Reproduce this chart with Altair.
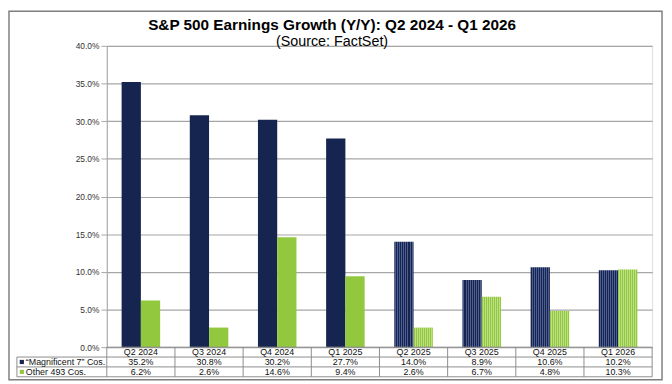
import altair as alt
import pandas as pd

# ---- data ----
quarters = ["Q2 2024", "Q3 2024", "Q4 2024", "Q1 2025", "Q2 2025", "Q3 2025", "Q4 2025", "Q1 2026"]
mag7 = [35.2, 30.8, 30.2, 27.7, 14.0, 8.9, 10.6, 10.2]
other = [6.2, 2.6, 14.6, 9.4, 2.6, 6.7, 4.8, 10.3]
is_estimate = [False, False, False, False, True, True, True, True]
series_keys = ["Mag7", "Other"]
series_names = ["\u201cMagnificent 7\u201d Cos.", "Other 493 Cos."]
y_ticks = [0, 5, 10, 15, 20, 25, 30, 35, 40]
title_text = "S&P 500 Earnings Growth (Y/Y): Q2 2024 - Q1 2026"
subtitle_text = "(Source: FactSet)"

NAVY = "#16254f"
GREEN = "#92c83e"
NAVY_LIGHT = "#4d5d8f"
GREEN_LIGHT = "#bddf86"


def stripes(c1, c2, n=19):
    stops = []
    for k in range(n):
        c = c1 if k % 2 == 0 else c2
        stops.append({"offset": k / n, "color": c})
        stops.append({"offset": (k + 1) / n, "color": c})
    return {"gradient": "linear", "x1": 0, "y1": 0, "x2": 1, "y2": 0, "stops": stops}


rows = []
for i, q in enumerate(quarters):
    for s, vals in (("Mag7", mag7), ("Other", other)):
        rows.append({
            "quarter": q,
            "series": s,
            "value": vals[i],
            "key": s + ("-est" if is_estimate[i] else ""),
            "label": f"{vals[i]:.1f}%",
        })
df = pd.DataFrame(rows)
qdf = pd.DataFrame({"quarter": quarters})
one = pd.DataFrame({"a": [0]})

W, H = 552, 305
FONT = "Liberation Sans"
LINE = "#8c8c8c"
TFS = 9  # table font size
ROW_Y = [H + 5, H + 15, H + 25]  # header, row 1, row 2 centres

xs = alt.Scale(domain=quarters, paddingInner=0, paddingOuter=0)
x = alt.X("quarter:N", sort=quarters, scale=xs, axis=None)

fill = (
    alt.when(alt.datum.key == "Mag7-est").then(alt.value(stripes(NAVY, NAVY_LIGHT)))
    .when(alt.datum.key == "Other-est").then(alt.value(stripes(GREEN, GREEN_LIGHT)))
    .when(alt.datum.key == "Mag7").then(alt.value(NAVY))
    .otherwise(alt.value(GREEN))
)

bars = alt.Chart(df).mark_bar().encode(
    x=x,
    xOffset=alt.XOffset("series:N", scale=alt.Scale(domain=series_keys, paddingOuter=0.77, paddingInner=0)),
    y=alt.Y(
        "value:Q",
        scale=alt.Scale(domain=[0, 40], nice=False),
        axis=alt.Axis(
            values=y_ticks,
            labelExpr="format(datum.value, '.1f') + '%'",
            title=None,
            labelFont=FONT,
            labelFontSize=8.5,
            labelColor="#333333",
            tickColor="#a6a6a6",
            tickSize=6,
            labelPadding=2,
            domainColor="#a6a6a6",
            gridColor="#a6a6a6",
            gridWidth=1.2,
        ),
    ),
    fill=fill,
)

# ---- title ----
title = alt.Chart(one).mark_text(font=FONT, fontSize=15.5, fontWeight="bold", color="#000000", align="center").encode(
    x=alt.value(228), y=alt.value(-21), text=alt.value(title_text)
)
subtitle = alt.Chart(one).mark_text(font=FONT, fontSize=14.5, color="#000000", align="center").encode(
    x=alt.value(228), y=alt.value(-4), text=alt.value(subtitle_text)
)

# ---- data table below the plot ----
header = alt.Chart(qdf).mark_text(font=FONT, fontSize=TFS, baseline="middle", color="#111111").encode(
    x=x, y=alt.value(ROW_Y[0]), text="quarter:N"
)
row1 = alt.Chart(df[df.series == "Mag7"]).mark_text(font=FONT, fontSize=TFS, baseline="middle", color="#111111").encode(
    x=x, y=alt.value(ROW_Y[1]), text="label:N"
)
row2 = alt.Chart(df[df.series == "Other"]).mark_text(font=FONT, fontSize=TFS, baseline="middle", color="#111111").encode(
    x=x, y=alt.value(ROW_Y[2]), text="label:N"
)

vlines = alt.Chart(qdf).mark_rule(color=LINE, strokeWidth=1).encode(
    x=alt.X("quarter:N", sort=quarters, scale=xs, axis=None, bandPosition=0),
    y=alt.value(H), y2=alt.value(H + 30),
)
right_line = alt.Chart(one).mark_rule(color=LINE, strokeWidth=1).encode(
    x=alt.value(W), y=alt.value(H), y2=alt.value(H + 30)
)
left_line = alt.Chart(one).mark_rule(color=LINE, strokeWidth=1).encode(
    x=alt.value(-91), y=alt.value(H + 10), y2=alt.value(H + 30)
)
hlines = [
    alt.Chart(one).mark_rule(color=LINE, strokeWidth=1).encode(
        x=alt.value(x0), x2=alt.value(W), y=alt.value(yv)
    )
    for x0, yv in ((0, H), (-91, H + 10), (-91, H + 20), (-91, H + 30))
]

sq1 = alt.Chart(one).mark_point(shape="square", filled=True, size=18, opacity=1, color=NAVY).encode(
    x=alt.value(-86), y=alt.value(ROW_Y[1])
)
sq2 = alt.Chart(one).mark_point(shape="square", filled=True, size=18, opacity=1, color=GREEN).encode(
    x=alt.value(-86), y=alt.value(ROW_Y[2])
)
lab1 = alt.Chart(one).mark_text(font=FONT, fontSize=TFS, align="left", baseline="middle", color="#111111").encode(
    x=alt.value(-82), y=alt.value(ROW_Y[1]), text=alt.value(series_names[0])
)
lab2 = alt.Chart(one).mark_text(font=FONT, fontSize=TFS, align="left", baseline="middle", color="#111111").encode(
    x=alt.value(-82), y=alt.value(ROW_Y[2]), text=alt.value(series_names[1])
)

border = alt.Chart(one).mark_rect(fill="transparent", stroke="#7f7f7f", strokeWidth=1.5).encode(
    x=alt.value(-99), x2=alt.value(562), y=alt.value(-35), y2=alt.value(338)
)

chart = alt.layer(
    bars, *hlines, vlines, right_line, left_line, header, row1, row2, sq1, sq2, lab1, lab2,
    title, subtitle, border
).properties(
    width=W,
    height=H,
    autosize=alt.AutoSizeParams(type="none"),
    padding={"left": 100, "top": 36, "right": 12, "bottom": 35},
).configure_view(stroke=None).configure(background="white")

chart.save("out.html", embed_options={"renderer": "svg", "actions": False})
